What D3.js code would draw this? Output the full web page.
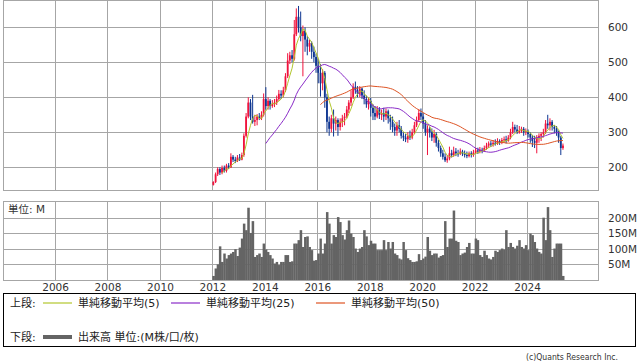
<!DOCTYPE html>
<html><head><meta charset="utf-8">
<script src="https://cdn.jsdelivr.net/npm/d3@7"></script>
<style>
body{margin:0;background:#fff;}
svg{display:block;}
text{font-family:"DejaVu Sans","Noto Sans CJK JP",sans-serif;}
</style></head>
<body><svg id="c" width="638" height="362"></svg>
<script>
// Monthly OHLC, Jan 2012 .. May 2025
const open = [
150,158,180,195,185,198,190,205,200,230,222,218,
228,222,235,290,345,385,345,330,335,345,340,350,
395,375,390,375,380,385,395,410,405,420,460,505,
520,510,580,630,600,575,590,565,545,555,530,515,
490,470,440,470,400,330,310,340,325,335,315,330,
340,345,365,385,400,430,420,410,425,405,395,380,
390,370,355,345,365,350,355,345,360,340,330,315,
305,320,310,290,285,280,290,285,300,320,335,355,
345,325,300,310,300,285,295,270,255,240,230,220,
225,240,235,245,240,238,245,240,235,232,240,235,
242,248,245,250,247,255,262,268,265,270,268,275,
272,278,280,275,285,300,315,308,300,305,310,300,
303,295,285,275,270,285,290,295,300,325,320,330,
315,310,300,285,255];
const high = [
160,185,200,200,205,205,210,212,240,235,230,235,
238,242,297,355,400,395,407,350,352,355,360,411,
429,400,395,392,395,405,421,420,430,469,526,530,
535,621,654,661,645,605,600,575,565,560,545,525,
510,495,480,475,410,345,350,365,345,340,340,350,
355,375,392,420,440,445,432,432,428,420,405,400,
398,380,375,375,372,365,370,368,365,350,345,325,
330,335,318,300,295,300,305,310,330,345,366,368,
355,335,320,316,311,307,300,278,262,250,240,235,
259,250,259,255,250,254,250,248,245,245,246,250,
255,256,258,256,262,270,274,275,278,280,283,280,
284,288,290,292,310,330,322,321,318,316,315,311,
308,300,292,290,292,297,300,310,335,350,340,335,
321,318,305,290,268];
const low = [
148,155,175,178,180,185,185,195,198,215,212,215,
218,220,230,285,340,335,325,318,320,335,335,345,
365,365,365,370,372,378,390,395,400,415,455,495,
500,505,575,585,560,460,530,520,530,510,500,470,
440,402,420,370,300,290,300,288,305,290,305,315,
320,340,355,375,395,410,400,400,395,380,370,365,
345,335,335,340,338,335,330,335,325,307,300,290,
290,300,282,275,272,270,278,280,295,315,330,335,
310,290,235,285,275,270,259,245,230,222,215,213,
220,228,230,232,230,235,232,228,226,228,228,230,
238,238,240,240,244,250,255,258,259,262,264,264,
266,270,268,273,280,295,300,295,296,298,290,292,
285,270,258,255,240,270,275,285,295,310,305,305,
297,290,270,235,250];
const close = [
158,180,195,185,198,190,205,200,230,222,218,228,
222,235,290,345,385,345,330,335,345,340,350,395,
375,390,375,380,385,395,410,405,420,460,505,520,
510,580,630,600,575,590,565,545,555,530,515,490,
470,440,470,400,330,310,340,325,335,315,330,340,
345,365,385,400,430,420,410,425,405,395,380,390,
370,355,345,365,350,355,345,360,340,330,315,305,
320,310,290,285,280,290,285,300,320,335,355,345,
325,300,310,300,285,295,270,255,240,230,220,225,
240,235,245,240,238,245,240,235,232,240,235,242,
248,245,250,247,255,262,268,265,270,268,275,272,
278,280,275,285,300,315,308,300,305,310,300,303,
295,285,275,270,285,290,295,300,325,320,330,315,
310,300,285,255,262];
// Monthly volume, millions
const volume = [
13,37,50,108,58,85,69,80,85,90,99,77,
104,133,181,160,232,151,189,74,80,85,74,117,
98,90,80,69,53,58,48,58,58,80,80,58,
60,117,117,128,160,106,138,140,106,96,62,64,
85,133,85,117,218,181,117,144,138,202,186,144,
130,160,191,149,138,101,90,101,106,160,140,112,
126,117,117,96,96,96,128,96,122,101,122,85,
80,69,66,122,96,70,64,58,58,60,83,64,
69,75,138,94,80,85,85,72,77,80,189,106,
133,133,223,126,122,80,85,88,106,119,85,85,
133,128,80,74,94,80,69,66,74,94,90,96,
101,98,160,106,119,106,101,110,128,106,101,112,
96,149,144,122,101,90,85,200,128,234,160,74,
101,117,117,117,13];
const yearTicks = [2006,2008,2010,2012,2014,2016,2018,2020,2022,2024];
const priceTicks = [200,300,400,500,600];
const volTicks = [50,100,150,200];
const maPeriods = [5,25,50];
const maColors = ["#b2c62e","#8a2cc8","#de5424"];
const maLabels = ["単純移動平均(5)","単純移動平均(25)","単純移動平均(50)"];

const svg = d3.select("#c");
svg.append("rect").attr("width",638).attr("height",362).attr("fill","#fff");

const L=3, R=598, T1=0.5, B1=190.5, T2=201.5, B2=280;
const x = d3.scaleTime().domain([new Date(2004,0,7), new Date(2026,8,15)]).range([L,R]);
const yP = d3.scaleLinear().domain([133.7,676.6]).range([B1,T1]);
const yV = d3.scaleLinear().domain([0,252]).range([B2,T2]);

const months = d3.range(close.length).map(i => new Date(2012, i, 1));
const mid = i => x(new Date(2012, i, 15));
const gridCol = "#a6a6a6";

function panel(top,bottom,yScale,ticks,fmt){
  const g = svg.append("g");
  g.append("g").attr("transform",`translate(0,${bottom})`)
   .call(d3.axisBottom(x).tickValues(yearTicks.map(y=>new Date(y,0,1))).tickSize(-(bottom-top)).tickFormat(""))
   .call(a=>{a.select(".domain").remove(); a.selectAll("line").attr("stroke",gridCol).attr("shape-rendering","crispEdges");});
  g.append("g").attr("transform",`translate(${R},0)`)
   .call(d3.axisRight(yScale).tickValues(ticks).tickSize(-(R-L)).tickPadding(10).tickFormat(fmt))
   .call(a=>{a.select(".domain").remove(); a.selectAll("line").attr("stroke",gridCol).attr("shape-rendering","crispEdges");
     a.selectAll("text").attr("font-size",10.5).attr("fill","#333").attr("font-family","DejaVu Sans");});
  g.append("rect").attr("x",L).attr("y",top).attr("width",R-L).attr("height",bottom-top)
   .attr("fill","none").attr("stroke",gridCol).attr("shape-rendering","crispEdges");
  return g;
}
panel(T1,B1,yP,priceTicks,d=>d);
panel(T2,B2,yV,volTicks,d=>d+"M");

svg.append("g").attr("transform",`translate(0,${B2})`)
 .call(d3.axisBottom(x).tickValues(yearTicks.map(y=>new Date(y,0,1))).tickSize(0).tickPadding(4).tickFormat(d3.timeFormat("%Y")))
 .call(a=>{a.select(".domain").remove(); a.selectAll("text").attr("font-size",10.5).attr("fill","#333").attr("font-family","DejaVu Sans");});

svg.append("g").selectAll("rect").data(volume).join("rect")
 .attr("x",(d,i)=>x(months[i]))
 .attr("width",(d,i)=>x(new Date(2012,i+1,1))-x(months[i])+0.3)
 .attr("y",d=>yV(d)).attr("height",d=>yV(0)-yV(d))
 .attr("fill","#646464");

svg.append("text").attr("x",8).attr("y",213).attr("font-size",10.5).attr("fill","#333")
 .attr("font-family","Noto Sans CJK JP").text("単位: M");

const cg = svg.append("g");
close.forEach((c,i)=>{
  const o=open[i], up = c>=o, col = up ? "#f0123c" : "#0d3590";
  const cx = mid(i);
  cg.append("line").attr("x1",cx).attr("x2",cx).attr("y1",yP(high[i])).attr("y2",yP(low[i]))
    .attr("stroke",col).attr("stroke-width",1);
  const y1=yP(Math.max(o,c)), y2=yP(Math.min(o,c));
  cg.append("rect").attr("x",cx-0.9).attr("width",1.8).attr("y",y1).attr("height",Math.max(1,y2-y1)).attr("fill",col);
});

maPeriods.forEach((p,k)=>{
  const pts = [];
  for(let i=p-1;i<close.length;i++) pts.push([mid(i), d3.mean(close.slice(i-p+1,i+1))]);
  svg.append("path").datum(pts).attr("fill","none").attr("stroke",maColors[k]).attr("stroke-width",1)
   .attr("d",d3.line().x(d=>d[0]).y(d=>yP(d[1])));
});

const lg = svg.append("g").attr("font-family","Noto Sans CJK JP").attr("font-size",11).attr("fill","#222");
lg.append("rect").attr("x",3.5).attr("y",293.5).attr("width",632).attr("height",53).attr("fill","none").attr("stroke","#000");
lg.append("text").attr("x",10).attr("y",307).text("上段:");
const lx=[43,171,316];
maLabels.forEach((t,k)=>{
  lg.append("line").attr("x1",lx[k]).attr("x2",lx[k]+29).attr("y1",303).attr("y2",303).attr("stroke",maColors[k]).attr("stroke-width",1.2);
  lg.append("text").attr("x",lx[k]+35).attr("y",307).text(t);
});
lg.append("text").attr("x",10).attr("y",341).text("下段:");
lg.append("line").attr("x1",43).attr("x2",72).attr("y1",337).attr("y2",337).attr("stroke","#646464").attr("stroke-width",4);
lg.append("text").attr("x",78).attr("y",341).text("出来高 単位:(M株/口/枚)");
svg.append("text").attr("x",618).attr("y",360).attr("text-anchor","end").attr("font-size",9.5)
 .attr("textLength",92).attr("lengthAdjust","spacingAndGlyphs")
 .attr("font-family","Noto Sans CJK JP").attr("fill","#333").text("(c)Quants Research Inc.");
</script></body></html>
